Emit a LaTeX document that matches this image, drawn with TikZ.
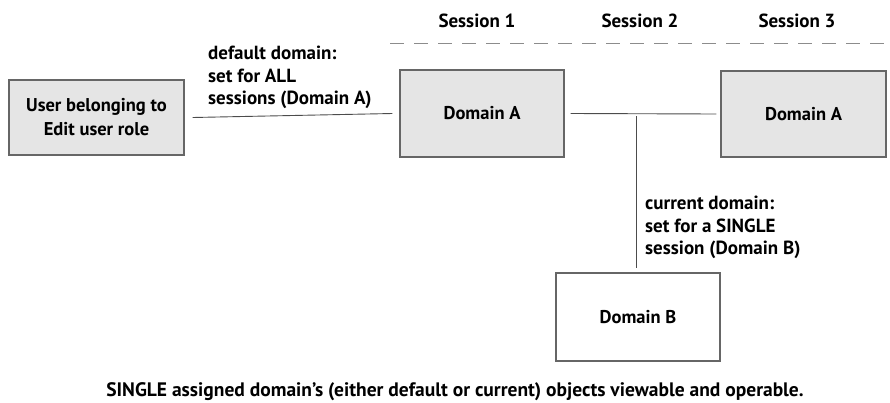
\documentclass[tikz,border=0pt]{standalone}
\usepackage{fontspec}
\setmainfont{PT Sans}
\begin{document}
\begin{tikzpicture}[x=1pt,y=-1pt,
  box/.style={draw=black!60,line width=1.1pt,fill=black!10,inner sep=0pt,align=center,font=\fontsize{18.5}{24}\selectfont\bfseries},
  wbox/.style={box,fill=white},
  lbl/.style={inner sep=0pt,align=left,font=\fontsize{19}{22.5}\selectfont\bfseries,anchor=north west},
  sess/.style={inner sep=0pt,font=\fontsize{19}{22}\selectfont\bfseries,anchor=base},
  conn/.style={draw=black!70,line width=0.9pt}]
\useasboundingbox (0,0) rectangle (890,402);
\node[box,minimum width=175,minimum height=75] (user) at (96.5,117.5) {User belonging to\\Edit user role};
\node[box,minimum width=164,minimum height=87] (da1) at (482,113.5) {Domain A};
\node[box,minimum width=165,minimum height=86] (da2) at (803.5,114) {Domain A};
\node[wbox,minimum width=164,minimum height=88] (db) at (638,317) {Domain B};
\node[sess] (s1) at (477,27) {Session 1};
\node[sess] (s2) at (640,27) {Session 2};
\node[sess] (s3) at (797,27) {Session 3};
\coordinate (dl) at (390,43);
\coordinate (dr) at (890,43);
\draw[draw=black!45,line width=0.9pt,dash pattern=on 14pt off 10pt] (dl) -- (dr);
\node[lbl] (deflbl) at (208,46) {default domain:\\set for ALL\\sessions (Domain A)};
\node[lbl] (curlbl) at (645,196) {current domain:\\set for a SINGLE\\session (Domain B)};
\coordinate (a1) at ([xshift=8pt]user.east);
\coordinate (a2) at ([xshift=-7pt]da1.west);
\draw[conn] (a1) -- (a2);
\coordinate (b1) at ([xshift=6pt]da1.east);
\coordinate (b2) at ([xshift=-4pt]da2.west);
\draw[conn] (b1) -- (b2);
\coordinate (j) at (636,116);
\coordinate (jb) at (636,268);
\draw[conn] (j) -- (jb);
\node[inner sep=0pt,anchor=base,font=\fontsize{19.5}{22}\selectfont\bfseries] (bottom) at (455,396) {SINGLE assigned domain’s (either default or current) objects viewable and operable.};
\end{tikzpicture}
\end{document}
